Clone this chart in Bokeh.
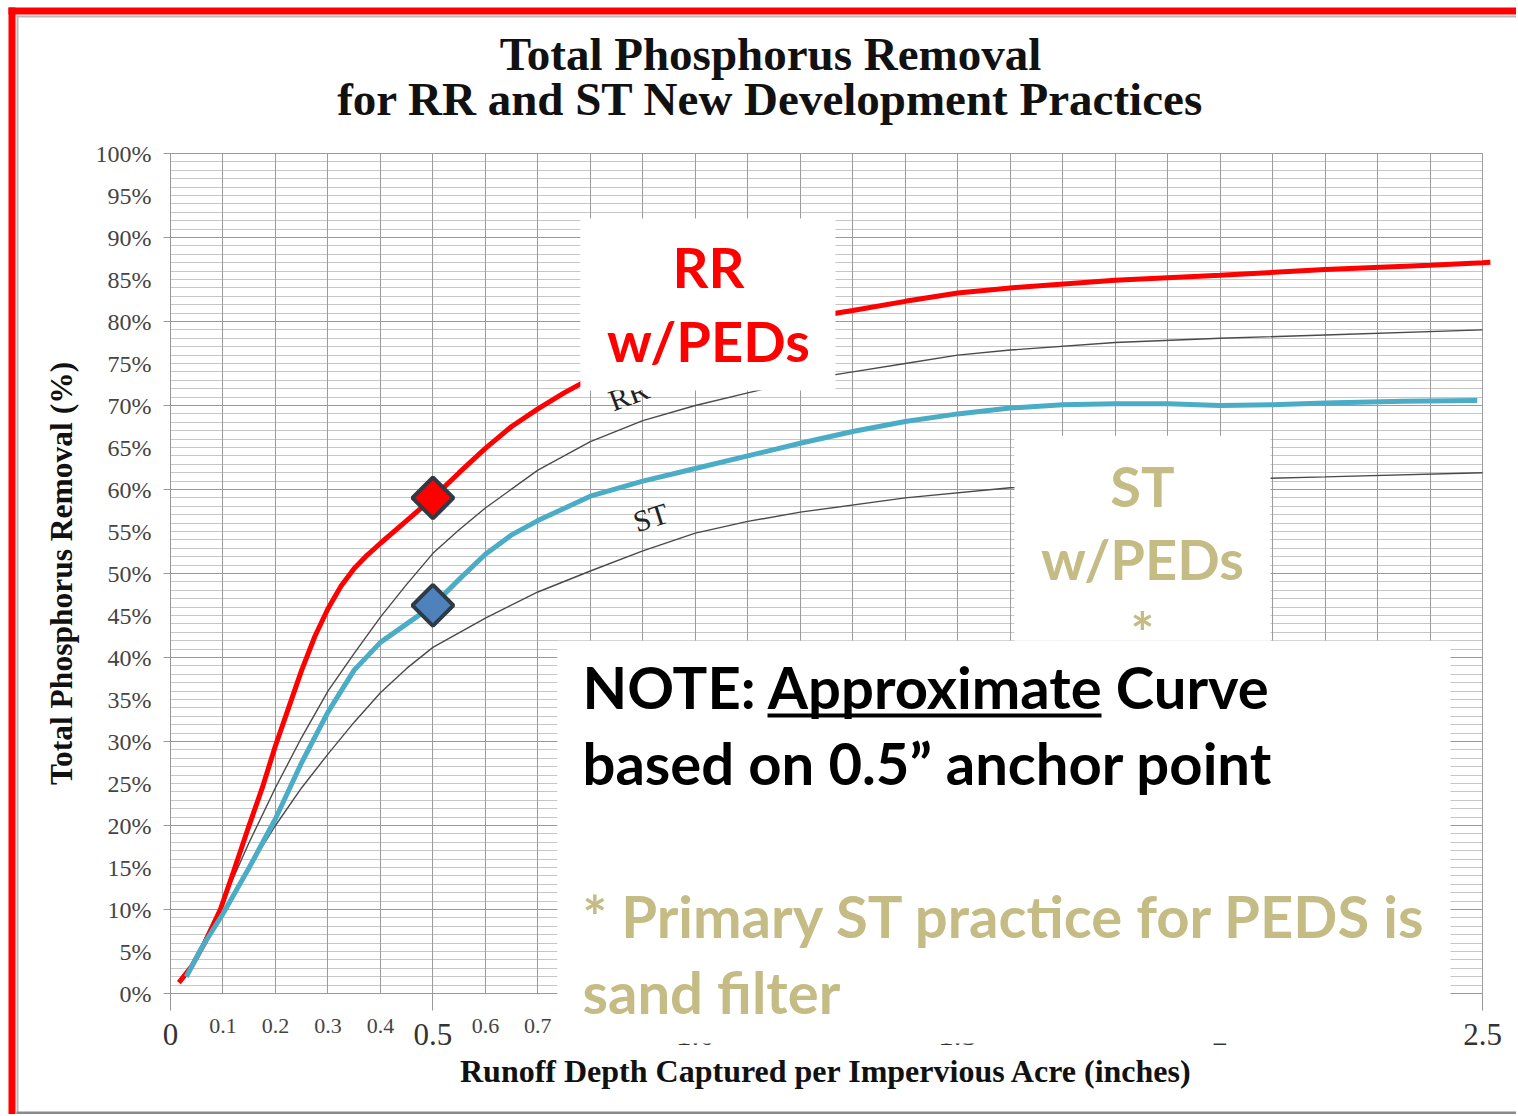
from math import pi
from bokeh.plotting import figure
from bokeh.models import Range1d, FixedTicker, LinearAxis, BoxAnnotation, Label, Grid
from bokeh.core.properties import value
from bokeh.embed import file_html
from bokeh.resources import INLINE

# ---------------- data ----------------
rr_peds_x = [0.016, 0.04, 0.065, 0.095, 0.12, 0.147, 0.175, 0.2, 0.225, 0.25, 0.275, 0.3, 0.325, 0.35,
             0.375, 0.4, 0.45, 0.5, 0.55, 0.6, 0.65, 0.7, 0.75, 0.8, 0.9, 1.0, 1.1, 1.2, 1.3, 1.4, 1.5,
             1.6, 1.8, 2.0, 2.2, 2.4, 2.5, 2.515]
rr_peds_y = [1.3, 3.2, 6.0, 10.0, 14.5, 19.5, 24.5, 29.5, 34.0, 38.5, 42.5, 45.8, 48.5, 50.6,
             52.2, 53.6, 56.3, 59.0, 62.0, 64.9, 67.5, 69.6, 71.5, 73.2, 75.7, 77.6, 79.0, 80.3, 81.3, 82.4, 83.4,
             84.0, 84.9, 85.5, 86.2, 86.7, 87.0, 87.05]

st_peds_x = [0.03, 0.06, 0.1, 0.15, 0.2, 0.25, 0.3, 0.35, 0.4, 0.45, 0.5, 0.55, 0.6, 0.65, 0.7, 0.8, 0.9,
             1.0, 1.1, 1.2, 1.3, 1.4, 1.5, 1.6, 1.7, 1.8, 1.9, 2.0, 2.1, 2.2, 2.35, 2.49]
st_peds_y = [2.0, 5.5, 9.5, 15.0, 20.8, 27.5, 33.5, 38.5, 41.8, 44.0, 46.2, 49.3, 52.3, 54.6, 56.3, 59.2, 61.0,
             62.5, 64.0, 65.5, 66.9, 68.1, 69.0, 69.7, 70.1, 70.2, 70.2, 70.0, 70.1, 70.3, 70.5, 70.6]

rr_x = [0.03, 0.1, 0.15, 0.2, 0.25, 0.3, 0.35, 0.4, 0.45, 0.5, 0.55, 0.6, 0.7, 0.8, 0.9, 1.0, 1.1, 1.2,
        1.3, 1.4, 1.5, 1.6, 1.8, 2.0, 2.2, 2.5]
rr_y = [2.0, 11.0, 18.0, 24.5, 30.5, 36.0, 40.5, 44.8, 48.7, 52.4, 55.2, 57.8, 62.3, 65.7, 68.2, 70.0, 71.5, 73.0,
        74.0, 75.0, 76.0, 76.6, 77.5, 78.0, 78.4, 79.0]

st_x = [0.03, 0.1, 0.15, 0.2, 0.25, 0.3, 0.35, 0.4, 0.45, 0.5, 0.6, 0.7, 0.8, 0.9, 1.0, 1.1, 1.2, 1.4, 1.6,
        1.8, 2.0, 2.2, 2.5]
st_y = [2.0, 9.5, 15.0, 20.0, 24.5, 28.5, 32.3, 35.8, 38.7, 41.2, 44.7, 47.8, 50.3, 52.7, 54.8, 56.2, 57.3, 59.0, 60.2,
        60.8, 61.2, 61.5, 62.0]

anchor_x = [0.5, 0.5]
anchor_y = [59.0, 46.2]
anchor_colors = ["#FF0000", "#4F81BD"]

y_ticks = [0, 5, 10, 15, 20, 25, 30, 35, 40, 45, 50, 55, 60, 65, 70, 75, 80, 85, 90, 95, 100]
y_tick_labels = ["0%", "5%", "10%", "15%", "20%", "25%", "30%", "35%", "40%", "45%", "50%", "55%", "60%",
                 "65%", "70%", "75%", "80%", "85%", "90%", "95%", "100%"]
y_major_grid = [0, 10, 20, 30, 40, 50, 60, 70, 80, 90, 100]
y_minor_grid = list(range(0, 101))
x_grid = [0.0, 0.1, 0.2, 0.3, 0.4, 0.5, 0.6, 0.7, 0.8, 0.9, 1.0, 1.1, 1.2, 1.3, 1.4, 1.5, 1.6, 1.7, 1.8,
          1.9, 2.0, 2.1, 2.2, 2.3, 2.4, 2.5]
x_big_ticks = [0, 0.5, 1.0, 1.5, 2.0, 2.5]
x_big_labels = ["0", "0.5", "1.0", "1.5", "2", "2.5"]
x_small_ticks = [0.1, 0.2, 0.3, 0.4, 0.6, 0.7, 0.8, 0.9]
x_small_labels = ["0.1", "0.2", "0.3", "0.4", "0.6", "0.7", "0.8", "0.9"]

SERIF = "Liberation Serif"
SANS = "Lato"
TAN = "#C4BC84"

# ---------------- figure (frame = whole canvas; axes fixed at the origin) ----------------
W, H = 1516, 1114
PX_X = 524.8   # pixels per inch of runoff
PX_Y = 8.4     # pixels per percent
X0 = -170 / PX_X
Y1 = 993 / PX_Y
p = figure(width=W, height=H, x_range=Range1d(X0, X0 + W / PX_X), y_range=Range1d(Y1 - H / PX_Y, Y1),
           x_axis_type=None, y_axis_type=None, output_backend="svg", toolbar_location=None,
           min_border=0)
p.background_fill_color = "white"
p.border_fill_color = "white"
p.outline_line_color = None

hgrid = Grid(dimension=1, ticker=FixedTicker(ticks=y_major_grid, minor_ticks=y_minor_grid),
             bounds=(0, 100), grid_line_color="#9a9a9a", grid_line_width=1,
             minor_grid_line_color="#c6c6c6", minor_grid_line_width=1)
vgrid = Grid(dimension=0, ticker=FixedTicker(ticks=x_grid), bounds=(0, 2.5),
             grid_line_color="#9c9c9c", grid_line_width=1)
has_cross = "cross_bounds" in Grid.properties()
if has_cross:
    hgrid.cross_bounds = (0, 2.5)
    vgrid.cross_bounds = (0, 100)
p.add_layout(hgrid)
p.add_layout(vgrid)
if not has_cross:
    XL, XR0, YB0, YT = X0, X0 + W / PX_X, Y1 - H / PX_Y, Y1
    for (l, r, b, t) in [(XL, 0, YB0, YT), (2.5, XR0, YB0, YT), (0, 2.5, 100, YT), (0, 2.5, YB0, 0)]:
        p.add_layout(BoxAnnotation(left=l, right=r, bottom=b, top=t, fill_color="white", fill_alpha=1.0,
                                   line_color=None, level="underlay"))

# y axis
yaxis = LinearAxis(ticker=FixedTicker(ticks=y_ticks, minor_ticks=y_major_grid),
                   major_label_overrides=dict(zip(y_ticks, y_tick_labels)),
                   axis_label="Total Phosphorus Removal (%)", fixed_location=0, bounds=(0, 100))
yaxis.axis_line_color = "#999999"
yaxis.major_tick_in = 0
yaxis.major_tick_out = 0
yaxis.minor_tick_in = 0
yaxis.minor_tick_out = 7
yaxis.minor_tick_line_color = "#999999"
yaxis.major_label_standoff = 12
yaxis.major_label_text_font = SERIF
yaxis.major_label_text_font_size = "24px"
yaxis.major_label_text_color = "#444444"
yaxis.axis_label_text_font = SERIF
yaxis.axis_label_text_font_style = "bold"
yaxis.axis_label_text_font_size = "31.5px"
yaxis.axis_label_text_color = "#111111"
yaxis.axis_label_standoff = 14
p.add_layout(yaxis, "left")

# x axis: big labels with ticks
xaxis_big = LinearAxis(ticker=FixedTicker(ticks=x_big_ticks),
                       major_label_overrides=dict(zip(x_big_ticks, x_big_labels)),
                       fixed_location=0, bounds=(0, 2.5))
xaxis_big.axis_line_color = "#999999"
xaxis_big.major_tick_in = 0
xaxis_big.major_tick_out = 17
xaxis_big.major_tick_line_color = "#999999"
xaxis_big.minor_tick_line_color = None
xaxis_big.major_label_standoff = 13
xaxis_big.major_label_text_font = SERIF
xaxis_big.major_label_text_font_size = "31px"
xaxis_big.major_label_text_color = "#333333"
p.add_layout(xaxis_big, "below")

# x axis: small labels + title
xaxis_small = LinearAxis(ticker=FixedTicker(ticks=x_small_ticks),
                         major_label_overrides=dict(zip(x_small_ticks, x_small_labels)),
                         axis_label="Runoff Depth Captured per Impervious Acre (inches)",
                         fixed_location=0, bounds=(0, 2.5))
xaxis_small.axis_line_color = None
xaxis_small.major_tick_line_color = None
xaxis_small.minor_tick_line_color = None
xaxis_small.major_tick_in = 0
xaxis_small.major_tick_out = 0
xaxis_small.major_label_standoff = 25
xaxis_small.major_label_text_font = SERIF
xaxis_small.major_label_text_font_size = "22px"
xaxis_small.major_label_text_color = "#444444"
xaxis_small.axis_label_text_font = SERIF
xaxis_small.axis_label_text_font_style = "bold"
xaxis_small.axis_label_text_font_size = "32px"
xaxis_small.axis_label_text_color = "#111111"
xaxis_small.axis_label_standoff = 17
p.add_layout(xaxis_small, "below")

# ---------------- curves ----------------
p.line(rr_x, rr_y, line_color="#4a4a4a", line_width=1.4)
p.line(st_x, st_y, line_color="#4a4a4a", line_width=1.4)
p.text(x=[0.873], y=[71.3], text=["RR"], angle=0.36, text_font=value(SERIF), text_font_size="30px",
       text_color="#222222", text_align="center", text_baseline="middle")
p.text(x=[0.915], y=[56.7], text=["ST"], angle=0.31, text_font=value(SERIF), text_font_size="30px",
       text_color="#222222", text_align="center", text_baseline="middle")

p.line(rr_peds_x, rr_peds_y, line_color="#FF0000", line_width=5)
p.line(st_peds_x, st_peds_y, line_color="#4BACC6", line_width=5)
p.scatter(anchor_x, anchor_y, marker="square", size=29, angle=pi / 4, fill_color=anchor_colors,
          line_color="#2E3A44", line_width=4)

# ---------------- annotation boxes ----------------
for (l, r, b, t) in [(0.781, 1.267, 71.8, 92.26), (1.608, 2.096, 42.0, 66.4), (0.737, 2.439, -5.95, 42.0)]:
    p.add_layout(BoxAnnotation(left=l, right=r, bottom=b, top=t, fill_color="white", fill_alpha=1.0,
                               line_color=None, level="overlay"))


def box(l, r, b, t, color):
    p.add_layout(BoxAnnotation(left=l, right=r, bottom=b, top=t, fill_color=color, fill_alpha=1.0,
                               line_color=None, level="overlay"))


# page frame decoration (red frame with grey inner edge)
XR = X0 + W / PX_X
YB = Y1 - H / PX_Y
box(-0.3087, -0.2953, YB, 117.38, "#FF0000")
box(-0.3087, XR, 116.55, 117.38, "#FF0000")
box(-0.2935, -0.2896, YB, 116.43, "#b8b8b8")
box(-0.2935, XR, 116.19, 116.43, "#b8b8b8")
box(-0.2935, XR, YB, -14.05, "#8a8a8a")


def lab(x, y, text, size, color, font=SANS, style="bold", align="left"):
    p.add_layout(Label(x=x, y=y, text=text, text_font=font, text_font_size=size, text_font_style=style,
                       text_color=color, text_align=align, text_baseline="middle", level="overlay"))


lab(1.025, 86.51, "RR", "56px", "#FF0000", align="center")
lab(1.025, 77.70, "w/PEDs", "56px", "#FF0000", align="center")
lab(1.852, 60.44, "ST", "56px", TAN, align="center")
lab(1.852, 51.75, "w/PEDs", "56px", TAN, align="center")
lab(1.852, 43.06, "*", "56px", TAN, align="center")

lab(0.785, 36.60, "NOTE: Approximate Curve", "58px", "#000000")
box(1.1376, 1.7740, 32.86, 33.33, "#000000")
lab(0.785, 27.55, "based on 0.5\u201d anchor point", "58px", "#000000")
lab(0.785, 9.33, "* Primary ST practice for PEDS is", "58px", TAN)
lab(0.785, 0.29, "sand filter", "58px", TAN)

# title
lab(1.1433, 111.90, "Total Phosphorus Removal", "47px", "#111111", font=SERIF, align="center")
lab(1.1433, 106.54, "for RR and ST New Development Practices", "47px", "#111111", font=SERIF, align="center")

open("out.html", "w").write(file_html(p, INLINE))
